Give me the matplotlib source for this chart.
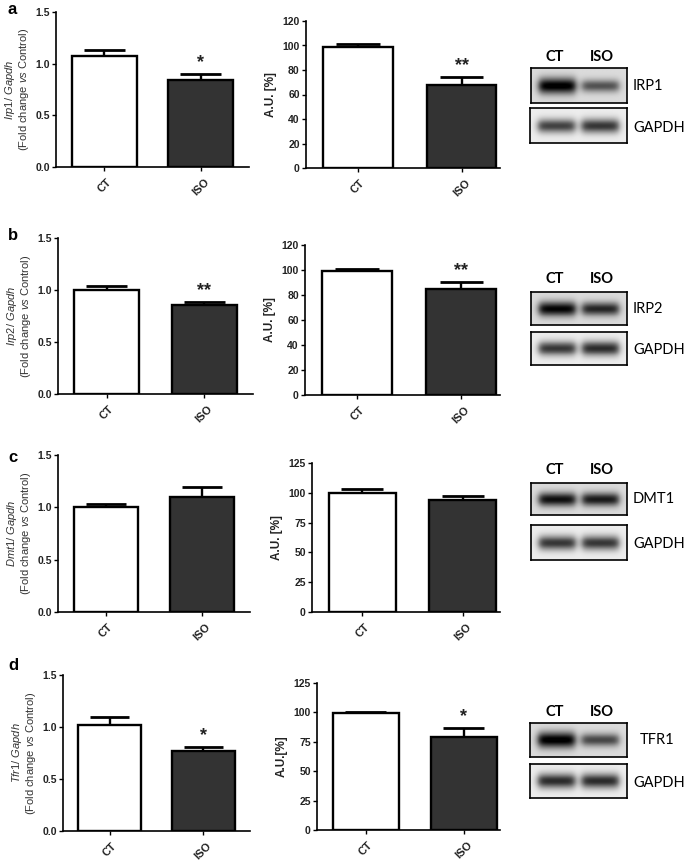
import numpy as np
import matplotlib
matplotlib.use("Agg")
import matplotlib.pyplot as plt

plt.rcParams.update({
    "font.family": ["Liberation Sans", "DejaVu Sans"],
    "mathtext.fontset": "custom",
    "mathtext.rm": "Liberation Sans",
    "mathtext.it": "Liberation Sans:italic",
    "axes.linewidth": 1.2,
})

# ---- data ----
groups = ["CT", "ISO"]
panels = ["a", "b", "c", "d"]
genes_mrna = ["Irp1", "Irp2", "Dmt1", "Tfr1"]
proteins = ["IRP1", "IRP2", "DMT1", "TFR1"]

mrna_mean = [[1.07, 0.84], [1.00, 0.86], [1.00, 1.10], [1.02, 0.77]]
mrna_err = [[0.06, 0.06], [0.04, 0.02], [0.03, 0.09], [0.08, 0.04]]
mrna_stars = [["", "*"], ["", "**"], ["", ""], ["", "*"]]

prot_mean = [[98.5, 68.0], [99.0, 84.5], [99.5, 94.0], [99.5, 79.0]]
prot_err = [[3.0, 6.0], [1.5, 5.5], [3.5, 3.5], [1.0, 7.5]]
prot_stars = [["", "**"], ["", "**"], ["", ""], ["", "*"]]
prot_ymax = [120, 120, 125, 125]
prot_step = [20, 20, 25, 25]
prot_label = ["A.U. [%]", "A.U. [%]", "A.U. [%]", "A.U.[%]"]

# relative band darkness on the blots (CT, ISO)
band_target = [[1.0, 0.6], [0.95, 0.8], [0.9, 0.85], [1.0, 0.65]]
band_gapdh = [[0.75, 0.8], [0.8, 0.85], [0.8, 0.8], [0.85, 0.85]]

# ---- layout in pixels (x0, ytop, x1, ybottom) ----
W, H = 685, 865
left_box = [(56, 12, 249, 167), (58, 238, 253, 394), (58, 455, 250, 612), (63, 675, 250, 831)]
mid_box = [(306, 21, 500, 168), (305, 245, 500, 395), (312, 463, 500, 612), (317, 683, 500, 830)]
blot1_box = [(531, 68, 627, 103), (531, 292, 627, 325), (531, 483, 627, 515), (530, 723, 627, 757)]
blot2_box = [(530, 108, 627, 143), (531, 332, 627, 365), (531, 525, 627, 560), (530, 764, 627, 798)]
header_y = [57, 279, 470, 712]
letter_y = [10, 235, 458, 665]

fig = plt.figure(figsize=(W / 100, H / 100), dpi=100)


def px_axes(box):
    x0, y0, x1, y1 = box
    return fig.add_axes([x0 / W, 1 - y1 / H, (x1 - x0) / W, (y1 - y0) / H])


def style_yticks(ax):
    for lab in ax.get_yticklabels():
        lab.set_fontsize(7.5)
        lab.set_fontweight("bold")
        lab.set_color("#222222")


def bar_panel(ax, means, errs, stars, ymax, xmax):
    x = np.arange(len(groups))
    ax.bar(x, means, width=0.67, color=["white", "#333333"], edgecolor="black",
           linewidth=1.7, zorder=2)
    for xi, m, e, s in zip(x, means, errs, stars):
        ax.vlines(xi, m, m + e, color="black", linewidth=1.7, zorder=1)
        ax.hlines(m + e, xi - 0.21, xi + 0.21, color="black", linewidth=2.0, zorder=1)
        if s:
            ax.text(xi, m + e + ymax * 0.02, s, ha="center", va="bottom",
                    fontsize=13, fontweight="bold", color="#222222")
    ax.set_xlim(-0.5, xmax)
    ax.set_ylim(0, ymax)
    ax.spines["top"].set_visible(False)
    ax.spines["right"].set_visible(False)
    ax.set_xticks(x)
    ax.set_xticklabels(groups, rotation=45, ha="center", va="top",
                       fontsize=8, fontweight="bold", color="#222222")
    ax.tick_params(axis="both", length=3, width=1, pad=1.5)
    ax.tick_params(axis="x", pad=4)


def blot(box, dark_ct, dark_iso, bg):
    ax = px_axes(box)
    ny, nx = 40, 120
    yy, xx = np.mgrid[0:ny, 0:nx]
    img = np.full((ny, nx), bg)
    for cx, d in zip([0.27 * nx, 0.72 * nx], [dark_ct, dark_iso]):
        hx = 1.0 / (1.0 + np.exp((np.abs(xx - cx) - 0.19 * nx) / 2.5))
        vy = np.exp(-((yy - ny * 0.5) / (4.0 + 5 * d)) ** 2)
        img = img - d * 0.9 * hx * vy
    ax.imshow(np.clip(img, 0, 1), cmap="gray", vmin=0, vmax=1, aspect="auto",
              interpolation="bilinear")
    ax.set_xticks([])
    ax.set_yticks([])
    for sp in ax.spines.values():
        sp.set_linewidth(1.2)
    return ax


for i in range(4):
    # mRNA panel
    ax = px_axes(left_box[i])
    bar_panel(ax, mrna_mean[i], mrna_err[i], mrna_stars[i], 1.5, 1.5)
    ax.set_yticks([0, 0.5, 1.0, 1.5])
    ax.set_yticklabels(["0.0", "0.5", "1.0", "1.5"])
    style_yticks(ax)
    ax.set_ylabel(r"$\it{" + genes_mrna[i] + r"/\ Gapdh}$" + "\n(Fold change $\\it{vs}$ Control)",
                  fontsize=8, color="#333333", labelpad=3, linespacing=1.05)
    fig.text(8 / W, 1 - letter_y[i] / H, panels[i], fontsize=12, fontweight="bold",
             va="center", ha="left")

    # protein panel
    ax2 = px_axes(mid_box[i])
    bar_panel(ax2, prot_mean[i], prot_err[i], prot_stars[i], prot_ymax[i], 1.37)
    ax2.set_yticks(np.arange(0, prot_ymax[i] + 1, prot_step[i]))
    style_yticks(ax2)
    ax2.set_ylabel(prot_label[i], fontsize=8.5, fontweight="bold", color="#222222",
                   labelpad=4)

    # western blot
    blot(blot1_box[i], band_target[i][0], band_target[i][1], 0.86)
    blot(blot2_box[i], band_gapdh[i][0], band_gapdh[i][1], 0.93)
    x0, y0, x1, y1 = blot1_box[i]
    w = x1 - x0
    for frac, g in zip([0.25, 0.74], groups):
        fig.text((x0 + frac * w) / W, 1 - header_y[i] / H, g, fontsize=10.5,
                 fontweight="bold", family=["Lato", "DejaVu Sans"],
                 ha="center", va="center")
    tx = 640 if proteins[i] == "TFR1" else 633
    fig.text(tx / W, 1 - (y0 + y1) / 2 / H, proteins[i], fontsize=10.5,
             family=["Lato", "DejaVu Sans"], ha="left", va="center")
    bx0, by0, bx1, by1 = blot2_box[i]
    fig.text(633 / W, 1 - ((by0 + by1) / 2 + 2) / H, "GAPDH", fontsize=10.5,
             family=["Lato", "DejaVu Sans"], ha="left", va="center")

fig.savefig("out.png", dpi=100)
